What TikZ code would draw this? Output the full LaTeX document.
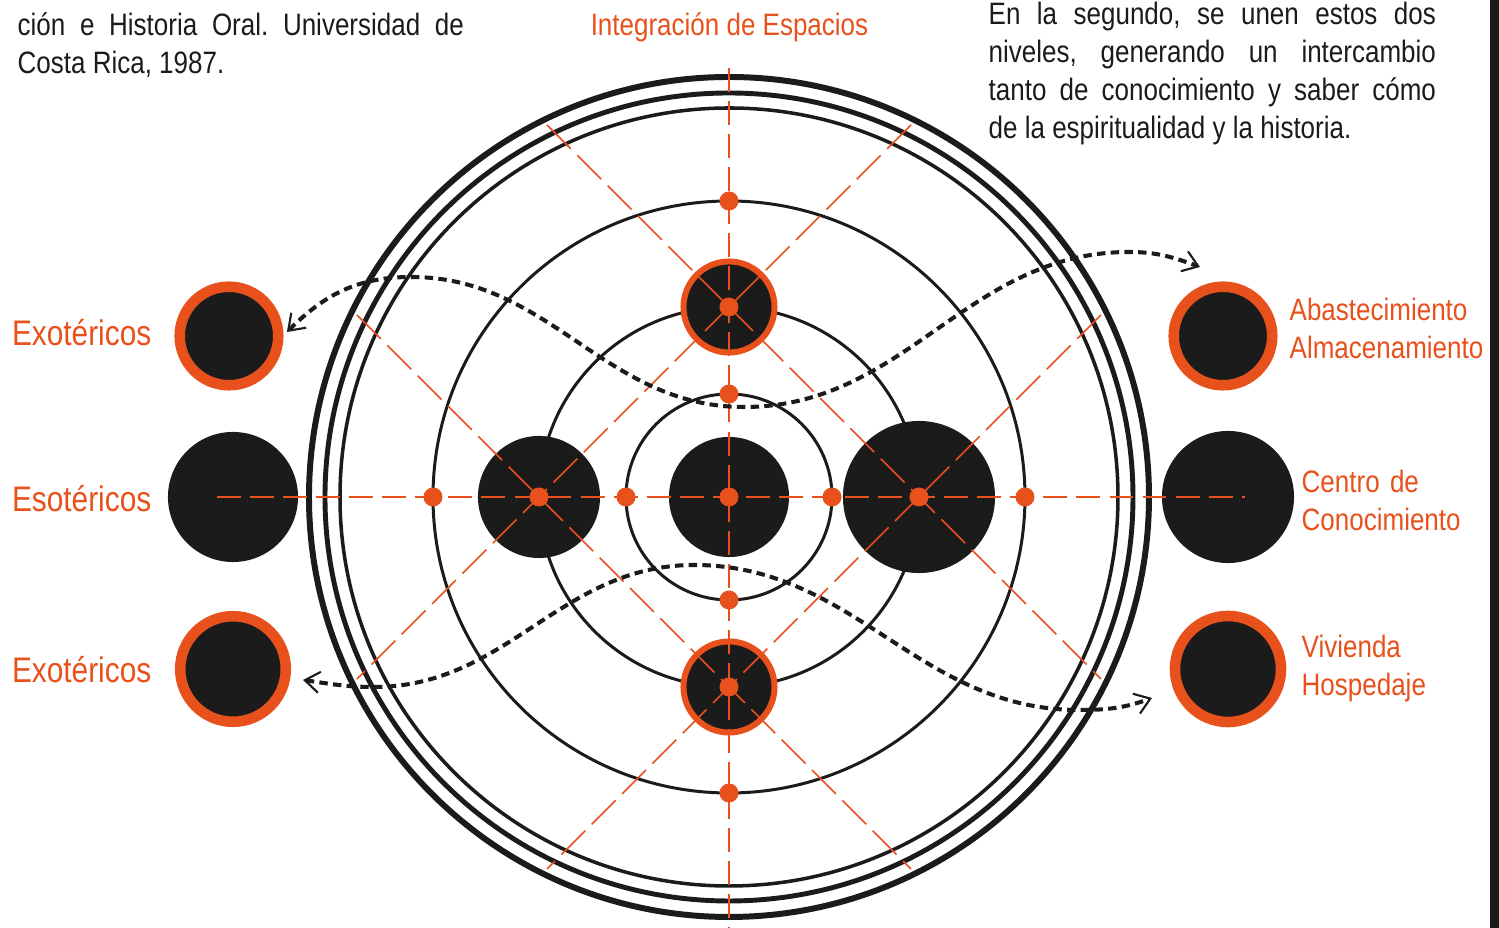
\documentclass[tikz,border=0pt]{standalone}
\usepackage{fontspec}
\setmainfont{Liberation Sans}[FakeStretch=0.84]
\frenchspacing
\usetikzlibrary{arrows.meta, positioning, calc}
\definecolor{cFlame}{RGB}{232,80,28}
\definecolor{cInk}{RGB}{26,27,26}
\tikzset{
	ring/.style={draw=cInk, line width=0.85pt},
	disc/.style={circle, fill=cInk, inner sep=0pt},
	haloed/.style={circle, fill=cInk, draw=cFlame, inner sep=0pt},
	pin/.style={circle, fill=cFlame, minimum size=0.19cm, inner sep=0pt},
	axisline/.style={cFlame, line width=0.6pt, dash pattern=on 6.8pt off 2.6pt},
	diagline/.style={cFlame, line width=0.45pt, dash pattern=on 9.6pt off 2.6pt},
	swing/.style={draw=cInk, line width=1.15pt, dash pattern=on 2.4pt off 1.5pt,
		arrows={Straight Barb[length=4.2pt,width=6pt,line width=0.6pt]-Straight Barb[length=4.2pt,width=6pt,line width=0.6pt]}},
	% orange labels
	bigword/.style={text=cFlame, font=\fontsize{10.1}{12}\selectfont, inner sep=0pt},
	tag/.style={text=cFlame, font=\fontsize{8.8}{10.8}\selectfont, inner sep=0pt, align=left, text width=3cm},
	prose/.style={text=cInk, font=\fontsize{8.8}{10.8}\selectfont, inner sep=0pt, align=justify},
}

\begin{document}
\begin{tikzpicture}[x=0.01cm, y=0.01cm]
	\useasboundingbox (-729,-431) rectangle (770,497);
	\fill[cInk] (761,-431) rectangle (770,497);

	\coordinate (C) at (0,0);
	% rims and orbits
	\draw[cInk, line width=1.7pt] (C) circle[radius=420];
	\draw[cInk, line width=1.4pt] (C) circle[radius=404];
	\draw[cInk, line width=1.0pt] (C) circle[radius=389];
	\foreach \r in {296,190,103}
		\draw[ring] (C) circle[radius=\r];

	\node[disc, minimum size=1.2cm] (core) at (C) {};
	\node[disc, minimum size=1.22cm] (west) at (-190,0) {};
	\node[disc, minimum size=1.52cm] (east) at (190,0) {};
	\node[haloed, line width=1.7pt, minimum size=0.91cm] (north) at (0,190) {};
	\node[haloed, line width=1.7pt, minimum size=0.91cm] (south) at (0,-190) {};

	% side circles
	\node[haloed, line width=3pt, minimum size=0.985cm] (exoA) at (-500,161) {};
	\node[disc, minimum size=1.3cm] (eso) at (-496,0) {};
	\node[haloed, line width=3pt, minimum size=1.055cm] (exoB) at (-496,-172) {};
	\node[haloed, line width=3pt, minimum size=0.985cm] (abas) at (494,161) {};
	\node[disc, minimum size=1.32cm] (cent) at (499,0) {};
	\node[haloed, line width=3pt, minimum size=1.06cm] (viv) at (499,-172) {};

	% guide lines
	\coordinate (zenith) at (0,429);
	\coordinate (nadir) at (0,-431);
	\draw[axisline] ($(eso)+(-16,0)$) -- ($(cent)+(17,0)$);
	\draw[axisline] (zenith) -- (nadir);
	\draw[diagline] ($(north)+(-182,182)$) -- ($(east)+(182,-182)$);
	\draw[diagline] ($(north)+(182,182)$) -- ($(west)+(-182,-182)$);
	\draw[diagline] ($(west)+(-182,182)$) -- ($(south)+(182,-182)$);
	\draw[diagline] ($(east)+(182,182)$) -- ($(south)+(-182,-182)$);

	\foreach \x/\y [count=\i] in {-296/0, -103/0, 103/0, 296/0, 0/296, 0/103, 0/-103, 0/-296}
		\node[pin] (pin\i) at (\x,\y) {};
	\foreach \n in {core, west, east, north, south}
		\node[pin] (pin-\n) at (\n) {};

	% exchange curves
	\coordinate (swA1) at (-442,165);
	\coordinate (crestA) at (-318,220);
	\coordinate (troughA) at (15,90);
	\coordinate (crestB) at (400,245);
	\coordinate (swA2) at (471,230);
	\draw[swing] (swA1) to[out=45,in=180] (crestA) to[out=0,in=180] (troughA)
		to[out=0,in=180] (crestB) to[out=0,in=160] (swA2);
	\coordinate (swB1) at (-426,-183);
	\coordinate (troughB) at (-355,-190);
	\coordinate (crestC) at (-35,-68);
	\coordinate (troughC) at (350,-213);
	\coordinate (swB2) at (423,-201);
	\draw[swing] (swB1) to[out=-8,in=180] (troughB) to[out=0,in=180] (crestC)
		to[out=0,in=180] (troughC) to[out=0,in=200] (swB2);

	% labels
	\node[bigword, anchor=base east] (lblExoA) at (-577,151) {Exotéricos};
	\node[bigword, anchor=base east] (lblEso) at (-577,-15) {Esotéricos};
	\node[bigword, anchor=base east] (lblExoB) at (-577,-186) {Exotéricos};
	\node[tag, anchor=base west] (lblAbas) at (560,176) {Abastecimiento\\Almacenamiento};
	\node[tag, anchor=base west] (lblCent) at (572,4) {Centro de\\Conocimiento};
	\node[tag, anchor=base west] (lblViv) at (572,-161) {Vivienda\\Hospedaje};
	\node[text=cFlame, font=\fontsize{8.8}{10.8}\selectfont, inner sep=0pt, anchor=base] (lblInt) at (0.5,461) {Integración de Espacios};

	\node[prose, text width=4.46cm, anchor=base west] (noteL) at (-712,461)
		{ción e Historia Oral. Universidad de\linebreak Costa Rica, 1987.};
	\node[prose, text width=4.47cm, anchor=base west] (noteR) at (259,472)
		{En la segundo, se unen estos dos\linebreak niveles, generando un intercambio\linebreak tanto de conocimiento y saber cómo\linebreak de la espiritualidad y la historia.};
\end{tikzpicture}
\end{document}
